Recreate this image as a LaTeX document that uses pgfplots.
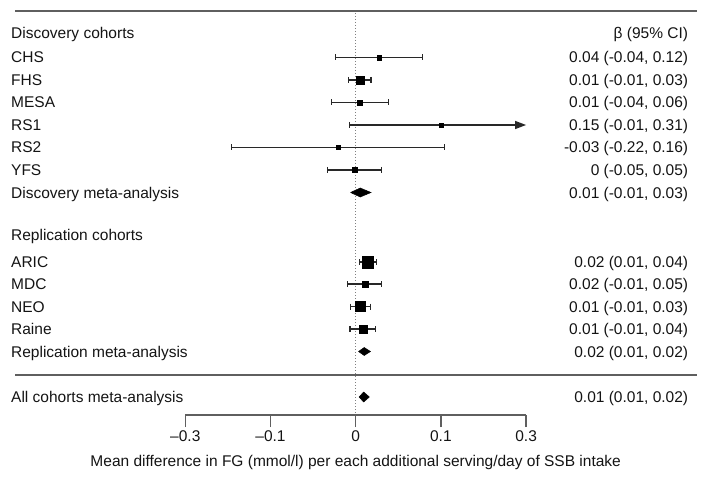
\documentclass[border=0pt]{standalone}
\usepackage{fontspec}
\setmainfont{Liberation Sans}
\usepackage{pgfplots}
\pgfplotsset{compat=1.18}
\usetikzlibrary{arrows.meta}
\definecolor{rulec}{RGB}{95,95,95}
\definecolor{txt}{RGB}{20,20,20}
\definecolor{cic}{RGB}{40,40,40}
\newcommand{\fs}{\fontsize{15.5}{18}\selectfont}
\tikzset{
  lbl/.style={anchor=base west, font=\fs, text=txt, inner sep=0pt},
  rbl/.style={anchor=base east, font=\fs, text=txt, inner sep=0pt},
}
\pgfplotsset{
  cistyle/.style={cic, line width=1.2pt, mark=|, mark size=3pt, mark options={line width=1.2pt}},
  est/.style={only marks, mark=square*, mark options={fill=black, draw=black, line width=0.3pt}},
  dia/.style={fill=black, draw=black, line width=0.5pt},
}
\begin{document}
\begin{tikzpicture}
\begin{axis}[
  x=568pt, y=1pt,
  xmin=-0.3, xmax=0.3, ymin=-415, ymax=0,
  clip=false, enlargelimits=false,
  axis x line*=bottom, axis y line=none,
  x axis line style={-, draw=rulec, line width=1.4pt},
  xtick={-0.3,-0.15,0,0.15,0.3},
  xticklabels={\textendash0.3,\textendash0.1,0,0.1,0.3},
  tick align=outside, major tick length=12pt,
  xtick style={draw=rulec, line width=1.4pt},
  tick label style={font=\fs, text=txt},
  xlabel={Mean difference in FG (mmol/l) per each additional serving/day of SSB intake},
  xlabel style={font=\fs, text=txt, at={(axis description cs:0.5,0)}, anchor=center, yshift=-47pt},
]
% frame of the picture
\path (axis cs:-0.62623,0) rectangle (axis cs:0.62025,-479);
% rules
\addplot[rulec, line width=1.6pt] coordinates {(-0.5998,-11) (0.6009,-11)};
\addplot[rulec, line width=1.6pt] coordinates {(-0.5998,-375) (0.6009,-375)};
% zero line
\addplot[gray, line width=1pt, dash pattern=on 1pt off 2pt] coordinates {(0,-13) (0,-413)};

% CHS
\addplot[cistyle] coordinates {(-0.035,-57.5) (0.118,-57.5)};
\addplot[est, mark size=2.2pt] coordinates {(0.041,-57.5)};
% FHS
\addplot[cistyle] coordinates {(-0.012,-80) (0.027,-80)};
\addplot[est, mark size=4.3pt] coordinates {(0.008,-80)};
% MESA
\addplot[cistyle] coordinates {(-0.043,-102.5) (0.058,-102.5)};
\addplot[est, mark size=2.7pt] coordinates {(0.007,-102.5)};
% RS1
\addplot[cic, line width=1.2pt, -{Triangle[length=11pt,width=8pt]}] coordinates {(-0.011,-125) (0.3,-125)};
\addplot[cistyle, only marks] coordinates {(-0.011,-125)};
\addplot[est, mark size=2.2pt] coordinates {(0.150,-125)};
% RS2
\addplot[cistyle] coordinates {(-0.219,-147.5) (0.157,-147.5)};
\addplot[est, mark size=2pt] coordinates {(-0.031,-147.5)};
% YFS
\addplot[cistyle] coordinates {(-0.050,-170) (0.046,-170)};
\addplot[est, mark size=2.4pt] coordinates {(-0.002,-170)};
% Discovery meta-analysis
\addplot[dia] coordinates {(-0.009,-192.5) (0.008,-188) (0.027,-192.5) (0.008,-197) (-0.009,-192.5)};

% ARIC
\addplot[cistyle] coordinates {(0.006,-262) (0.037,-262)};
\addplot[est, mark size=5.8pt] coordinates {(0.021,-262)};
% MDC
\addplot[cistyle] coordinates {(-0.014,-284) (0.046,-284)};
\addplot[est, mark size=3pt] coordinates {(0.016,-284)};
% NEO
\addplot[cistyle] coordinates {(-0.009,-306.5) (0.026,-306.5)};
\addplot[est, mark size=4.9pt] coordinates {(0.008,-306.5)};
% Raine
\addplot[cistyle] coordinates {(-0.010,-329) (0.035,-329)};
\addplot[est, mark size=4pt] coordinates {(0.013,-329)};
% Replication meta-analysis
\addplot[dia] coordinates {(0.005,-351.5) (0.015,-347.5) (0.026,-351.5) (0.015,-355.5) (0.005,-351.5)};
% All cohorts meta-analysis
\addplot[dia] coordinates {(0.006,-397) (0.014,-392) (0.024,-397) (0.014,-402) (0.006,-397)};

% left labels
\node[lbl] at (axis cs:-0.6069,-38.5) {Discovery cohorts};
\node[lbl] at (axis cs:-0.6069,-63) {CHS};
\node[lbl] at (axis cs:-0.6069,-85.5) {FHS};
\node[lbl] at (axis cs:-0.6069,-108) {MESA};
\node[lbl] at (axis cs:-0.6069,-130.5) {RS1};
\node[lbl] at (axis cs:-0.6069,-153) {RS2};
\node[lbl] at (axis cs:-0.6069,-175.5) {YFS};
\node[lbl] at (axis cs:-0.6069,-198) {Discovery meta-analysis};
\node[lbl] at (axis cs:-0.6069,-240.5) {Replication cohorts};
\node[lbl] at (axis cs:-0.6069,-267.5) {ARIC};
\node[lbl] at (axis cs:-0.6069,-289.5) {MDC};
\node[lbl] at (axis cs:-0.6069,-312) {NEO};
\node[lbl] at (axis cs:-0.6069,-334.5) {Raine};
\node[lbl] at (axis cs:-0.6069,-357) {Replication meta-analysis};
\node[lbl] at (axis cs:-0.6069,-402.5) {All cohorts meta-analysis};
% right labels
\node[rbl] at (axis cs:0.5856,-38.5) {β (95\% CI)};
\node[rbl] at (axis cs:0.5856,-63) {0.04 (-0.04, 0.12)};
\node[rbl] at (axis cs:0.5856,-85.5) {0.01 (-0.01, 0.03)};
\node[rbl] at (axis cs:0.5856,-108) {0.01 (-0.04, 0.06)};
\node[rbl] at (axis cs:0.5856,-130.5) {0.15 (-0.01, 0.31)};
\node[rbl] at (axis cs:0.5856,-153) {-0.03 (-0.22, 0.16)};
\node[rbl] at (axis cs:0.5856,-175.5) {0 (-0.05, 0.05)};
\node[rbl] at (axis cs:0.5856,-198) {0.01 (-0.01, 0.03)};
\node[rbl] at (axis cs:0.5856,-267.5) {0.02 (0.01, 0.04)};
\node[rbl] at (axis cs:0.5856,-289.5) {0.02 (-0.01, 0.05)};
\node[rbl] at (axis cs:0.5856,-312) {0.01 (-0.01, 0.03)};
\node[rbl] at (axis cs:0.5856,-334.5) {0.01 (-0.01, 0.04)};
\node[rbl] at (axis cs:0.5856,-357) {0.02 (0.01, 0.02)};
\node[rbl] at (axis cs:0.5856,-402.5) {0.01 (0.01, 0.02)};
\end{axis}
\end{tikzpicture}
\end{document}
